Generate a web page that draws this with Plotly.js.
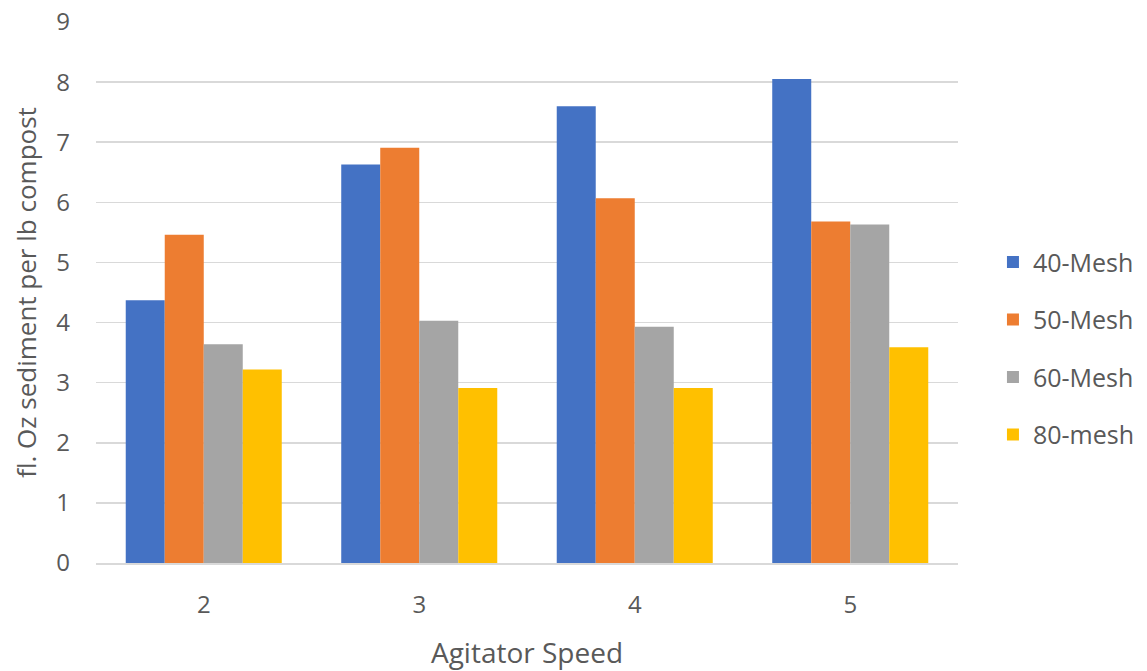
<!DOCTYPE html>
<html><head><meta charset="utf-8">
<script src="https://cdn.plot.ly/plotly-3.0.1.min.js"></script>
<style>html,body{margin:0;padding:0;background:#fff}#chart{width:1147px;height:671px}</style>
</head><body><div id="chart"></div>
<script>
const categories = ["2", "3", "4", "5"];
const seriesNames = ["40-Mesh", "50-Mesh", "60-Mesh", "80-mesh"];
const mesh40 = [4.37, 6.63, 7.60, 8.05];
const mesh50 = [5.46, 6.91, 6.07, 5.68];
const mesh60 = [3.64, 4.03, 3.93, 5.63];
const mesh80 = [3.22, 2.91, 2.91, 3.59];
const colors = ["#4472C4", "#ED7D31", "#A5A5A5", "#FFC000"];
const allSeries = [mesh40, mesh50, mesh60, mesh80];

const traces = allSeries.map((vals, i) => ({
  type: "bar", x: categories, y: vals, name: seriesNames[i],
  legendgroup: "g" + i,
  marker: {color: colors[i], line: {width: 0}},
  hoverinfo: "x+y+name"
}));

const layout = {
  width: 1147, height: 671,
  margin: {l: 96, r: 189, t: 22, b: 108},
  paper_bgcolor: "#fff", plot_bgcolor: "#fff",
  font: {family: "Open Sans, sans-serif", color: "#595959", size: 24},
  barmode: "group", bargap: 0.276, bargroupgap: 0,
  xaxis: {
    type: "category", showgrid: false, zeroline: false,
    showline: true, linecolor: "#d9d9d9", linewidth: 1.5,
    ticks: "", ticklabelstandoff: 20,
    tickfont: {size: 24, color: "#595959"},
    title: {text: "Agitator Speed", font: {size: 28, color: "#595959"}, standoff: 24}
  },
  yaxis: {
    range: [0, 9], dtick: 1, showgrid: true, gridcolor: "#d9d9d9", gridwidth: 1.5,
    zeroline: false, showline: false, ticks: "",
    tickfont: {size: 24, color: "#595959"}, ticklabelstandoff: 25,
    title: {text: "fl. Oz sediment per lb compost", font: {size: 26, color: "#595959"}, standoff: 12}
  },
  showlegend: true,
  legend: {
    xref: "container", x: 0.8657, xanchor: "left", y: 0.397, yanchor: "middle",
    font: {size: 25, color: "#595959"},
    traceorder: "grouped", tracegroupgap: 22,
    itemwidth: 30, bgcolor: "rgba(0,0,0,0)"
  }
};
Plotly.newPlot("chart", traces, layout, {displayModeBar: false, staticPlot: true});
</script></body></html>
